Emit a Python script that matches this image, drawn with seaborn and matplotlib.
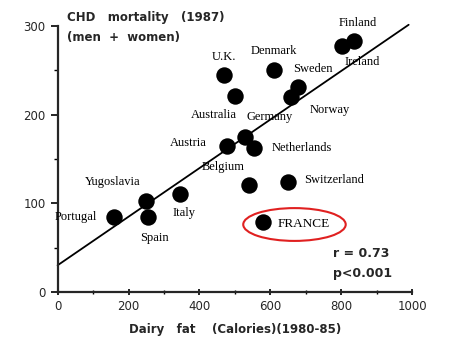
import matplotlib
matplotlib.use("Agg")
import matplotlib.pyplot as plt
from matplotlib.patches import Ellipse
from matplotlib.ticker import MultipleLocator
import seaborn as sns
import pandas as pd

countries = ["Finland", "Ireland", "U.K.", "Denmark", "Sweden", "Norway",
             "Australia", "Germany", "Austria", "Netherlands", "Belgium",
             "Switzerland", "Yugoslavia", "Portugal", "Italy", "Spain", "FRANCE"]
dairy_fat = [835, 801, 469, 610, 679, 658, 499, 529, 477, 554, 540, 650, 248, 160, 345, 256, 579]
chd_mortality = [283, 277, 245, 250, 231, 220, 221, 175, 164, 162, 121, 124, 103, 85, 110, 84, 79]
reg_intercept = 30
reg_slope = 0.274
reg_x_range = [0, 990]
x_ticks = [0, 200, 400, 600, 800, 1000]
y_ticks = [0, 100, 200, 300]

df = pd.DataFrame({"country": countries, "x": dairy_fat, "y": chd_mortality})

sns.set_style("ticks")
plt.rcParams['font.family'] = ['DejaVu Sans']

fig = plt.figure(figsize=(4.5, 3.43), dpi=100)
ax = fig.add_axes([0.128, 0.149, 0.788, 0.7755])

sns.scatterplot(data=df, x="x", y="y", ax=ax, color="black", s=140,
                edgecolor="black", linewidth=0, zorder=3, clip_on=False)

line_y = [reg_intercept + reg_slope * v for v in reg_x_range]
ax.plot(reg_x_range, line_y, color="black", lw=1.3, clip_on=False, zorder=2)

offsets = {
    "Finland": (4, 18, "center"), "Ireland": (21, -16, "center"),
    "U.K.": (0, 18, "center"), "Denmark": (0, 19, "center"),
    "Sweden": (15, 18, "center"), "Norway": (19, -13, "left"),
    "Australia": (-21, -19, "center"), "Germany": (24, 20, "center"),
    "Austria": (-20, 3, "right"), "Netherlands": (18, 0, "left"),
    "Belgium": (-26, 18, "center"), "Switzerland": (16, 2, "left"),
    "Yugoslavia": (-33, 19, "center"), "Portugal": (-17, 0, "right"),
    "Italy": (4, -19, "center"), "Spain": (6, -21, "center"),
    "FRANCE": (15, -2, "left"),
}
for c, xv, yv in zip(countries, dairy_fat, chd_mortality):
    dx, dy, ha = offsets[c]
    ax.annotate(c, (xv, yv), xytext=(dx, dy), textcoords="offset pixels",
                ha=ha, va="center", fontsize=9.5 if c == "FRANCE" else 9,
                family="Liberation Serif", color="black")

ell = Ellipse((668, 76), 289, 37, fill=False, edgecolor="#e02020", lw=1.5, clip_on=False)
ax.add_patch(ell)

ax.set_xlim(0, 1000)
ax.set_ylim(0, 300)
ax.set_xticks(x_ticks)
ax.set_yticks(y_ticks)
ax.xaxis.set_minor_locator(MultipleLocator(100))
ax.yaxis.set_minor_locator(MultipleLocator(50))
ax.tick_params(axis="both", which="major", labelsize=8.5, width=1.2, length=5, color="black")
ax.tick_params(axis="both", which="minor", width=1.0, length=3, color="black")
ax.tick_params(axis="x", which="both", direction="inout")
for lab in ax.get_xticklabels() + ax.get_yticklabels():
    lab.set_fontweight("medium")
sns.despine(ax=ax)
ax.spines["left"].set_linewidth(1.6)
ax.spines["bottom"].set_linewidth(1.6)
ax.set_xlabel("Dairy   fat    (Calories)(1980-85)", fontsize=8.5, fontweight="bold", labelpad=7)
ax.set_ylabel("")

fig.text(67 / 450, 1 - 18 / 343, "CHD   mortality   (1987)", fontsize=8.5, fontweight="bold", va="center")
fig.text(67 / 450, 1 - 37 / 343, "(men  +  women)", fontsize=8.5, fontweight="bold", va="center")
ax.text(0.777, 0.143, "r = 0.73", transform=ax.transAxes, fontsize=9, fontweight="bold", va="center")
ax.text(0.777, 0.071, "p<0.001", transform=ax.transAxes, fontsize=9, fontweight="bold", va="center")

fig.savefig("out.png", dpi=100)
